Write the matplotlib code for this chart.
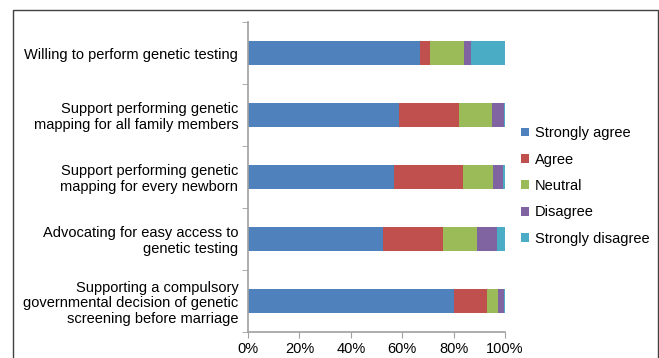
import matplotlib
matplotlib.use("Agg")
import matplotlib.pyplot as plt
from matplotlib.patches import Rectangle
from matplotlib.ticker import FixedLocator, PercentFormatter
import numpy as np

plt.rcParams['font.family'] = ['Liberation Sans', 'DejaVu Sans']

categories = [
    "Willing to perform genetic testing",
    "Support performing genetic\nmapping for all family members",
    "Support performing genetic\nmapping for every newborn",
    "Advocating for easy access to\ngenetic testing",
    "Supporting a compulsory\ngovernmental decision of genetic\nscreening before marriage",
]
strongly_agree = [66.9, 58.8, 56.8, 52.5, 80.0]
agree = [3.9, 23.3, 26.9, 23.4, 13.0]
neutral = [13.2, 12.8, 11.6, 13.2, 4.3]
disagree = [2.8, 4.7, 3.9, 7.8, 2.3]
strongly_disagree = [13.2, 0.4, 0.8, 3.1, 0.4]

series = [
    ("Strongly agree", strongly_agree, "#4F81BD"),
    ("Agree", agree, "#C0504D"),
    ("Neutral", neutral, "#9BBB59"),
    ("Disagree", disagree, "#8064A2"),
    ("Strongly disagree", strongly_disagree, "#4BACC6"),
]

fig = plt.figure(figsize=(6.59, 3.58), dpi=100)
ax = fig.add_axes([248/659, 1-332/358, 257/659, 310/358])

y = np.arange(len(categories))
left = np.zeros(len(categories))
for name, vals, col in series:
    vals = np.array(vals)
    ax.barh(y, vals, left=left, height=0.4, color=col, label=name)
    left += vals

ax.set_ylim(len(categories) - 0.5, -0.5)
ax.set_xlim(0, 100)
ax.set_yticks(y)
ax.set_yticklabels(categories, fontsize=10.5, linespacing=1.15)
ax.yaxis.set_minor_locator(FixedLocator(np.arange(-0.5, len(categories), 1.0)))
ax.tick_params(axis='y', which='major', length=0, pad=7)
ax.tick_params(axis='y', which='minor', length=4, color='#A0A0A0', direction='out')
ax.set_xticks(np.arange(0, 101, 20))
ax.xaxis.set_major_formatter(PercentFormatter(decimals=0))
ax.tick_params(axis='x', length=4, color='#A0A0A0', direction='out', labelsize=10.5, pad=3)

for s in ['top', 'right']:
    ax.spines[s].set_visible(False)
for s in ['left', 'bottom']:
    ax.spines[s].set_color('#A0A0A0')
    ax.spines[s].set_linewidth(1.2)

leg = ax.legend(loc='center left', bbox_to_anchor=(515/659, 1-186/358),
                bbox_transform=fig.transFigure, frameon=False, fontsize=10.5,
                handlelength=0.55, handleheight=0.55, handletextpad=0.4,
                labelspacing=0.85, borderaxespad=0)

fig.add_artist(Rectangle((13/659, -0.05), (658-13)/659, 1.05 - 10/358,
                         transform=fig.transFigure, fill=False,
                         edgecolor='#404040', linewidth=1.0))

fig.savefig("out.png", dpi=100)
